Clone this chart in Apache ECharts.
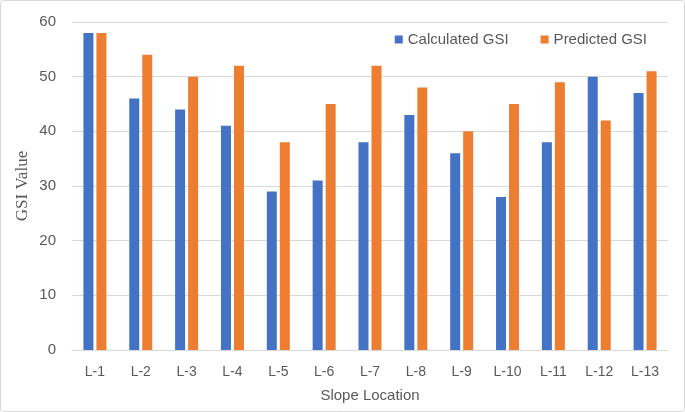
<!DOCTYPE html>
<html><head><meta charset="utf-8">
<script src="https://cdn.jsdelivr.net/npm/echarts@6/dist/echarts.min.js"></script>
<style>html,body{margin:0;padding:0;background:#fff;}#c{width:685px;height:412px;}</style>
</head><body><div id="c"></div>
<script>
const categories = ['L-1','L-2','L-3','L-4','L-5','L-6','L-7','L-8','L-9','L-10','L-11','L-12','L-13'];
const calculatedGSI = [58,46,44,41,29,31,38,43,36,28,38,50,47];
const predictedGSI = [58,54,50,52,38,45,52,48,40,45,49,42,51];
const seriesNames = ['Calculated GSI','Predicted GSI'];

const chart = echarts.init(document.getElementById('c'), null, {renderer:'canvas'});
const txt = '#595959';
const font = 'Liberation Sans';
chart.setOption({
  animation:false,
  backgroundColor:'#fff',
  graphic:[{type:'rect',shape:{x:0.5,y:0.5,width:684,height:411,r:3},style:{fill:'none',stroke:'#d9d9d9',lineWidth:1},silent:true}],
  legend:{
    data:seriesNames, right:33, top:27, itemWidth:8, itemHeight:8, itemGap:32,
    icon:'rect', textStyle:{color:txt,fontSize:15,fontFamily:font}
  },
  grid:{left:72,right:17,top:22,bottom:62,containLabel:false},
  xAxis:{
    type:'category', data:categories,
    name:'Slope Location', nameLocation:'middle', nameGap:38, nameMoveOverlap:false,
    nameTextStyle:{color:txt,fontSize:15,fontFamily:font},
    axisLine:{lineStyle:{color:'#d9d9d9'}}, axisTick:{show:false},
    axisLabel:{color:txt,fontSize:14,fontFamily:font,margin:15}
  },
  yAxis:{
    type:'value', min:0, max:60, interval:10,
    name:'GSI Value', nameLocation:'middle', nameGap:41, nameMoveOverlap:false,
    nameTextStyle:{color:txt,fontSize:17,fontFamily:'Liberation Serif'},
    axisLine:{show:false}, axisTick:{show:false},
    axisLabel:{color:txt,fontSize:15,fontFamily:font,margin:16},
    splitLine:{lineStyle:{color:'#d9d9d9'}}
  },
  series:[
    {name:seriesNames[0],type:'bar',data:calculatedGSI,barWidth:10,barGap:'30%',itemStyle:{color:'#4472c4'}},
    {name:seriesNames[1],type:'bar',data:predictedGSI,barWidth:10,itemStyle:{color:'#ed7d31'}}
  ]
});
</script></body></html>
